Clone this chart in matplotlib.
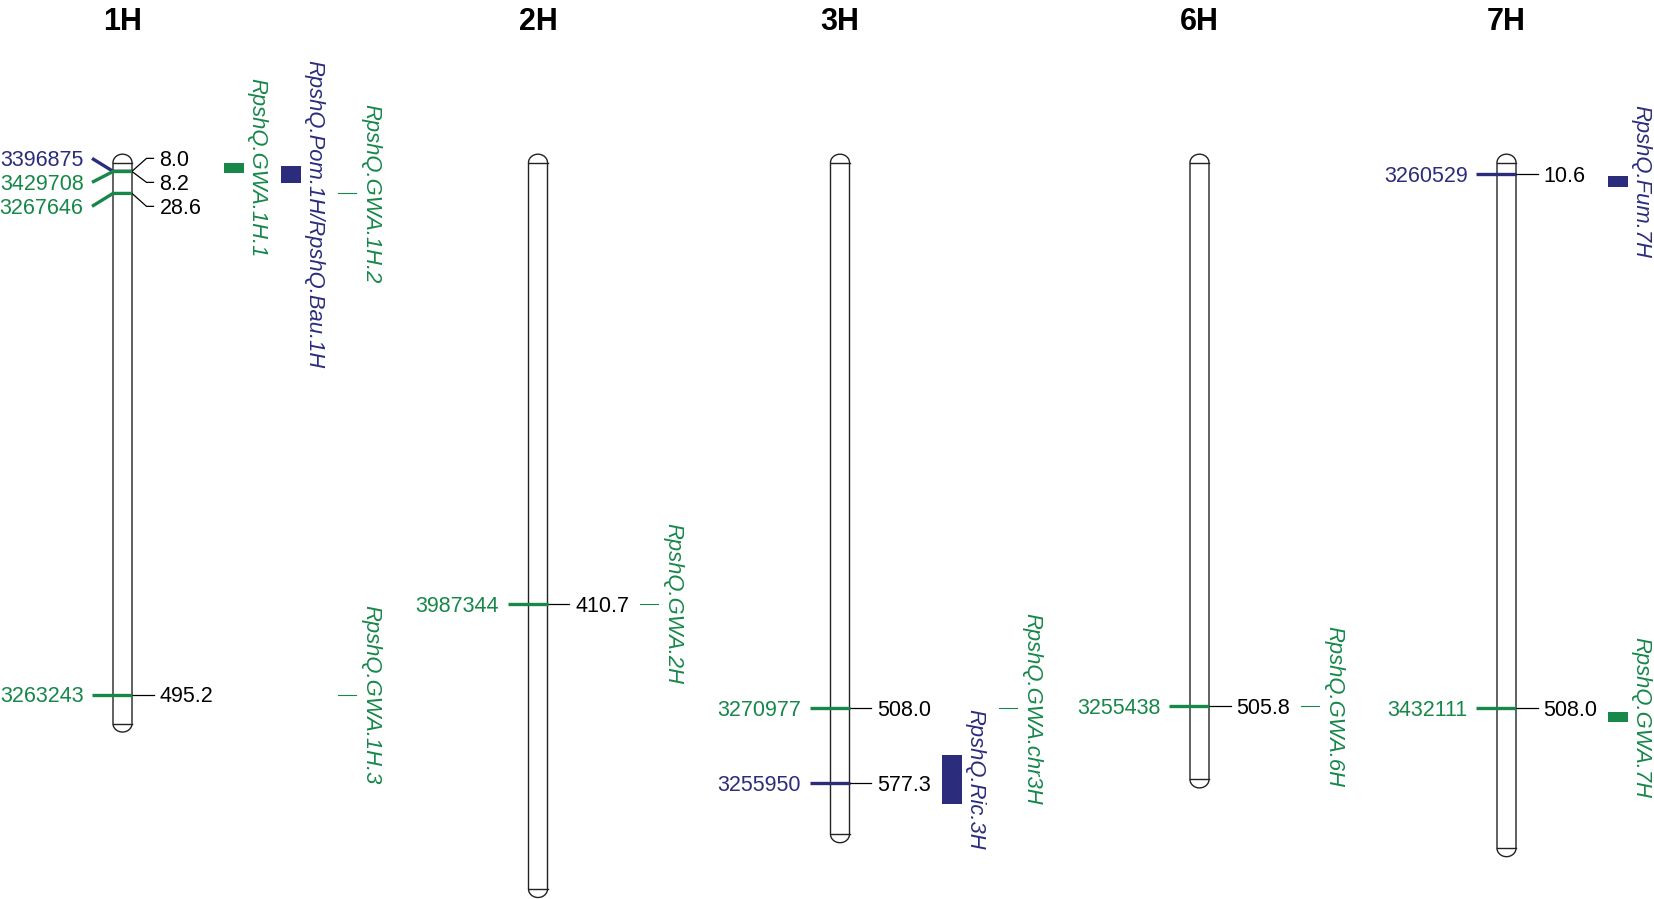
import numpy as np
import matplotlib
matplotlib.use("Agg")
import matplotlib.pyplot as plt
from matplotlib.patches import Polygon, Rectangle

# ---------------- data ----------------
chrom_names = ['1H', '2H', '3H', '6H', '7H']
chrom_length = [522.0, 676.0, 625.0, 574.0, 638.0]

marker_chrom = ['1H', '1H', '1H', '1H', '2H', '3H', '3H', '6H', '7H', '7H']
marker_names = ['3396875', '3429708', '3267646', '3263243', '3987344',
                '3270977', '3255950', '3255438', '3260529', '3432111']
marker_pos = [8.0, 8.2, 28.6, 495.2, 410.7, 508.0, 577.3, 505.8, 10.6, 508.0]
marker_group = ['blue', 'green', 'green', 'green', 'green',
                'green', 'blue', 'green', 'blue', 'green']

qtl_chrom = ['1H', '1H', '1H', '1H', '2H', '3H', '3H', '6H', '7H', '7H']
qtl_names = ['RpshQ.GWA.1H.1', 'RpshQ.Pom.1H/RpshQ.Bau.1H', 'RpshQ.GWA.1H.2',
             'RpshQ.GWA.1H.3', 'RpshQ.GWA.2H', 'RpshQ.Ric.3H', 'RpshQ.GWA.chr3H',
             'RpshQ.GWA.6H', 'RpshQ.Fum.7H', 'RpshQ.GWA.7H']
qtl_start = [0.0, 3.0, 28.6, 495.2, 410.7, 551.0, 508.0, 505.8, 12.1, 511.0]
qtl_end = [10.0, 18.6, 28.6, 495.2, 410.7, 597.0, 508.0, 505.8, 22.3, 521.0]
qtl_group = ['green', 'blue', 'green', 'green', 'green', 'blue', 'green',
             'green', 'blue', 'green']
qtl_column = [0, 1, 2, 2, 0, 0, 1, 0, 0, 0]

# ---------------- style / layout ----------------
COLORS = {'green': '#17874a', 'blue': '#2b2d7c'}
FONT = 'Liberation Sans'
W, H = 1654, 899
chrom_x = {'1H': 122.5, '2H': 538.0, '3H': 840.0, '6H': 1199.5, '7H': 1506.5}
Y0, SCALE = 162.7, 1.0744          # pixel y of position 0, pixels per unit
HALF_W = 9.5                         # half width of chromosome (px)
CAP_H = 8.5                          # cap height (px)
LABEL_GAP = 24.0                     # min spacing between marker labels (px)
FS = 15.5
FS_QTL = 15.8


def px2pos(py):
    return (py - Y0) / SCALE


def dpx(d):
    return d / SCALE


fig = plt.figure(figsize=(W / 100, H / 100), dpi=100)
ax = fig.add_axes([0, 0, 1, 1])
ax.set_xlim(0, W)
ax.set_ylim(px2pos(H), px2pos(0))
ax.axis('off')

# chromosomes
for name, L in zip(chrom_names, chrom_length):
    c = chrom_x[name]
    t = np.linspace(0, np.pi, 40)
    top = np.column_stack([c - HALF_W * np.cos(t), 0 - dpx(CAP_H) * np.sin(t)])
    bot = np.column_stack([c + HALF_W * np.cos(t), L + dpx(CAP_H) * np.sin(t)])
    pts = np.vstack([top, bot])
    ax.add_patch(Polygon(pts, closed=True, facecolor='white', edgecolor='#222222',
                         lw=1.0, zorder=2))
    ax.plot([c - HALF_W, c + HALF_W], [0, 0], color='#222222', lw=1.0, zorder=3)
    ax.plot([c - HALF_W, c + HALF_W], [L, L], color='#222222', lw=1.0, zorder=3)
    ax.text(c, px2pos(22), name, ha='center', va='center', fontsize=22,
            fontweight='bold', family=FONT, color='black')

# marker label spreading per chromosome
label_y = {}
for name in chrom_names:
    idx = [i for i, ch in enumerate(marker_chrom) if ch == name]
    idx.sort(key=lambda i: marker_pos[i])
    groups = []
    for i in idx:
        py = Y0 + SCALE * marker_pos[i]
        if groups and py - (Y0 + SCALE * marker_pos[groups[-1][-1]]) < LABEL_GAP:
            groups[-1].append(i)
        else:
            groups.append([i])
    for g in groups:
        pys = [Y0 + SCALE * marker_pos[i] for i in g]
        mid = (min(pys) + max(pys)) / 2
        n = len(g)
        for k, i in enumerate(g):
            label_y[i] = mid + (k - (n - 1) / 2) * LABEL_GAP

# draw blue markers first then green on top
order = sorted(range(len(marker_names)), key=lambda i: 0 if marker_group[i] == 'blue' else 1)
for i in order:
    c = chrom_x[marker_chrom[i]]
    col = COLORS[marker_group[i]]
    my = marker_pos[i]
    ly = px2pos(label_y[i])
    ax.plot([c - 30.5, c - HALF_W, c + HALF_W], [ly, my, my], color=col, lw=2.4,
            solid_capstyle='butt', zorder=5)
    ax.plot([c + HALF_W, c + 24, c + 31], [my, ly, ly], color='black', lw=0.9, zorder=4)
    ax.text(c - 39, ly + dpx(7.7), marker_names[i], ha='right', va='baseline',
            fontsize=FS, family=FONT, color=col, zorder=6)
    ax.text(c + 37, ly + dpx(7.7), f'{marker_pos[i]:.1f}', ha='left', va='baseline',
            fontsize=FS, family=FONT, color='black', zorder=6)

# QTLs
qtl_texts = []
for i in range(len(qtl_names)):
    c = chrom_x[qtl_chrom[i]]
    col = COLORS[qtl_group[i]]
    x0 = c + 101.5 + 57.0 * qtl_column[i]
    if qtl_end[i] > qtl_start[i]:
        ax.add_patch(Rectangle((x0, qtl_start[i]), 20, qtl_end[i] - qtl_start[i],
                               facecolor=col, edgecolor='none', zorder=3))
    else:
        ax.plot([x0, x0 + 18], [qtl_start[i], qtl_start[i]], color=col, lw=0.8, zorder=3)
    mid = (qtl_start[i] + qtl_end[i]) / 2
    t = ax.text(x0 + 33, mid, qtl_names[i], rotation=-90, ha='center', va='center',
                fontsize=FS_QTL, style='italic', family=FONT, color=col, zorder=6)
    qtl_texts.append(t)

# keep labels inside the top margin
fig.canvas.draw()
r = fig.canvas.get_renderer()
for t in qtl_texts:
    bb = t.get_window_extent(renderer=r)
    top_px = H - bb.y1
    if top_px < 60:
        x, y = t.get_position()
        t.set_position((x, px2pos(60)))
        t.set_va('top')

fig.savefig('out.png', dpi=100, facecolor='white')
